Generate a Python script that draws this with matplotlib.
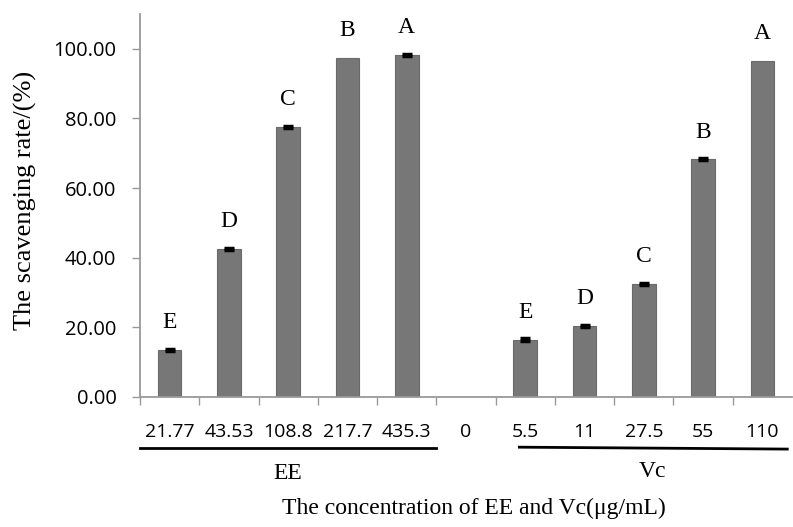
import matplotlib
matplotlib.use("Agg")
import matplotlib.pyplot as plt
import matplotlib.transforms as mtransforms
import numpy as np

# ---------------------------------------------------------------------------
# Data
# ---------------------------------------------------------------------------
conc_labels = ["21.77", "43.53", "108.8", "217.7", "435.3", "0",
               "5.5", "11", "27.5", "55", "110"]
rates = [13.5, 42.5, 77.5, 97.5, 98.2, 0.0,
         16.5, 20.5, 32.5, 68.3, 96.6]
errors = [0.4, 0.4, 0.3, 0.0, 0.3, 0.0,
          0.4, 0.3, 0.3, 0.3, 0.0]
letters = ["E", "D", "C", "B", "A", "",
           "E", "D", "C", "B", "A"]
group_names = ["EE", "Vc"]

SERIF = ["Liberation Serif", "DejaVu Serif"]
SANS = ["Open Sans", "DejaVu Sans"]
AXIS_GREY = "#999999"

fig = plt.figure(figsize=(7.93, 5.27), dpi=100)
ax = fig.add_axes([140 / 793, 130 / 527, 652 / 793, 383 / 527])

x = np.arange(len(rates))
rates_arr = np.array(rates)
err_arr = np.array(errors)
has_bar = rates_arr > 0
ax.bar(x[has_bar], rates_arr[has_bar], width=0.4, color="#777777",
       edgecolor="#6a6a6a", linewidth=0.8, zorder=2)
has_err = err_arr > 0
ax.errorbar(x[has_err], rates_arr[has_err], yerr=err_arr[has_err], fmt="none",
            ecolor="black", elinewidth=2, capsize=3.5, capthick=2.5, zorder=3)

# significance letters above bars
for xi, yi, lab in zip(x, rates, letters):
    if lab:
        ax.annotate(lab, (xi, yi), xytext=(0, 12), textcoords="offset points",
                    ha="center", va="bottom", fontsize=17, family=SERIF)

ax.set_xlim(-0.5, len(rates) - 0.5)
ax.set_ylim(0, 110)
ax.set_yticks(np.arange(0, 101, 20))
ax.set_yticklabels([f"{v:.2f}" for v in np.arange(0, 101, 20)], family=SANS, fontsize=14.5)

# category labels at centres, tick marks at boundaries
ax.set_xticks(x)
ax.set_xticklabels(conc_labels, family=SANS, fontsize=14)
ax.set_xticks(np.arange(-0.5, len(rates) - 0.5, 1), minor=True)
ax.tick_params(axis="x", which="major", length=0, pad=19)
ax.tick_params(axis="x", which="minor", length=6, width=1, color=AXIS_GREY, direction="out")
ax.tick_params(axis="y", length=6, width=1, color=AXIS_GREY, direction="out", pad=11)

for side in ["top", "right"]:
    ax.spines[side].set_visible(False)
for side in ["left", "bottom"]:
    ax.spines[side].set_color(AXIS_GREY)
    ax.spines[side].set_linewidth(1.3)

# group brackets under the tick labels
trans = mtransforms.blended_transform_factory(ax.transData, ax.transAxes)
ax.plot([-0.5, 4.5], [-0.133, -0.133], transform=trans, color="black", lw=2, clip_on=False)
ax.plot([5.9, 10.42], [-0.131, -0.136], transform=trans, color="black", lw=2, clip_on=False)
ax.text(2.0, -0.2, group_names[0], transform=trans, ha="center", va="center",
        fontsize=17, family=SERIF)
ax.text(8.15, -0.195, group_names[1], transform=trans, ha="center", va="center",
        fontsize=17, family=SERIF)

fig.text(474 / 793, 1 - 508 / 527, "The concentration of EE and Vc(\u03bcg/mL)",
         ha="center", va="center", fontsize=17, family=SERIF)
fig.text(25 / 793, 1 - 200 / 527, "The scavenging rate/(%)", rotation=90,
         ha="center", va="center", fontsize=19, family=SERIF)

fig.savefig("out.png", dpi=100)
